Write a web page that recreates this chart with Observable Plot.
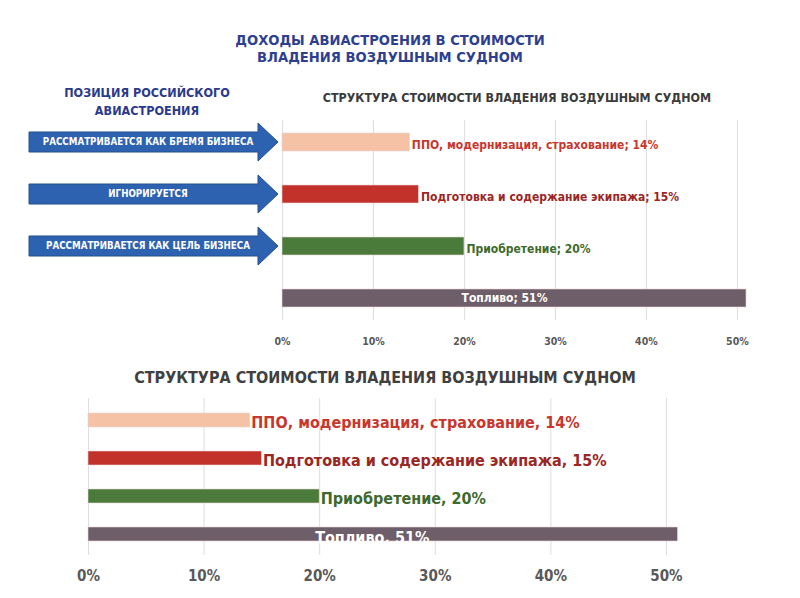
<!DOCTYPE html>
<html>
<head>
<meta charset="utf-8">
<script src="https://cdn.jsdelivr.net/npm/d3@7"></script>
<script src="https://cdn.jsdelivr.net/npm/@observablehq/plot@0.6"></script>
<style>
  html, body { margin: 0; padding: 0; background: #fff; }
  #page { position: relative; width: 800px; height: 598px; overflow: hidden;
    font-family: 'DejaVu Sans Condensed', 'Liberation Sans Narrow', sans-serif; font-weight: bold; }
  .abs { position: absolute; margin: 0; white-space: nowrap; }
  .t1 { left: 0; width: 780px; text-align: center; font-size: 14.6px; line-height: 16px; color: #2e3f8f; }
  .lh { left: 47px; width: 200px; text-align: center; font-size: 12.5px; line-height: 16px; color: #2b3a8c; }
  #sub-top { left: 322px; width: 390px; top: 90px; text-align: center; font-size: 12.4px; line-height: 16px; color: #3b3b3b; }
  #sub-bottom { left: 130px; width: 510px; top: 368px; text-align: center; font-size: 16px; line-height: 20px; color: #404040; }
  #top-chart { left: 0; top: 0; }
  #bottom-chart { left: 0; top: 360px; }
  svg { overflow: visible; }
</style>
</head>
<body>
<div id="page">
  <div id="top-chart" class="abs"></div>
  <div id="bottom-chart" class="abs"></div>
  <div class="abs t1" style="top:32px">ДОХОДЫ АВИАСТРОЕНИЯ В СТОИМОСТИ</div>
  <div class="abs t1" style="top:49px">ВЛАДЕНИЯ ВОЗДУШНЫМ СУДНОМ</div>
  <div class="abs lh" style="top:85px">ПОЗИЦИЯ РОССИЙСКОГО</div>
  <div class="abs lh" style="top:103px">АВИАСТРОЕНИЯ</div>
  <div id="sub-top" class="abs">СТРУКТУРА СТОИМОСТИ ВЛАДЕНИЯ ВОЗДУШНЫМ СУДНОМ</div>
  <div id="sub-bottom" class="abs">СТРУКТУРА СТОИМОСТИ ВЛАДЕНИЯ ВОЗДУШНЫМ СУДНОМ</div>
</div>
<script>
// ---- data ----
const categories = ["ППО", "Подготовка", "Приобретение", "Топливо"];
const values = [14, 15, 20, 51];
const topLabels = [
  "ППО, модернизация, страхование; 14%",
  "Подготовка и содержание экипажа; 15%",
  "Приобретение; 20%",
  "Топливо; 51%"
];
const bottomLabels = [
  "ППО, модернизация, страхование, 14%",
  "Подготовка и содержание экипажа, 15%",
  "Приобретение, 20%",
  "Топливо, 51%"
];
const barColors = ["#f5c2a6", "#c2322a", "#4b7b3a", "#6e5e69"];
const labelColors = ["#c8372d", "#9a2724", "#3f6a2e", "#ffffff"];
const arrowCategories = ["ППО", "Подготовка", "Приобретение"];
const arrowLabels = [
  "РАССМАТРИВАЕТСЯ КАК БРЕМЯ БИЗНЕСА",
  "ИГНОРИРУЕТСЯ",
  "РАССМАТРИВАЕТСЯ КАК ЦЕЛЬ БИЗНЕСА"
];
const tickValues = [0, 10, 20, 30, 40, 50];

const rows = categories.map((c, i) => ({
  cat: c, value: values[i], top: topLabels[i], bottom: bottomLabels[i],
  color: barColors[i], labelColor: labelColors[i]
}));
const outside = rows.slice(0, 3);
const inside = rows.slice(3);
const FONT = "'DejaVu Sans Condensed', 'Liberation Sans Narrow', sans-serif";

// ---- top chart ----
const topPlot = Plot.plot({
  width: 800, height: 360,
  marginTop: 120, marginBottom: 40, marginLeft: 282, marginRight: 54,
  style: { fontFamily: FONT, fontWeight: "bold", color: "#595959", background: "transparent", fontSize: "10.5px" },
  x: { domain: [0, 51], range: [282, 746], ticks: tickValues, tickSize: 0, tickPadding: 17,
       tickFormat: d => d + "%", label: null },
  y: { domain: categories, range: [132, 307], paddingInner: 0.656, paddingOuter: 0, axis: null },
  color: { type: "identity" },
  marks: [
    Plot.ruleX(tickValues, { stroke: "#dedede", strokeWidth: 1 }),
    Plot.barX(rows, { x: "value", y: "cat", fill: "color", stroke: "#ead3d6", strokeWidth: 0.6 }),
    Plot.text(outside, { x: "value", y: "cat", text: "top", fill: "labelColor", textAnchor: "start",
      dx: 2, dy: 3, fontSize: 12, fontWeight: "bold" }),
    Plot.text(inside, { x: d => d.value / 2, y: "cat", text: "top", fill: "labelColor",
      dx: -10, fontSize: 12, fontWeight: "bold" })
  ]
});
document.getElementById("top-chart").appendChild(topPlot);

// arrows positioned by the top chart's y scale
const yTop = topPlot.scale("y");
const bw = yTop.bandwidth;
const svgTop = d3.select(topPlot);
const gA = svgTop.append("g").attr("aria-label", "arrows");
arrowCategories.forEach((c, i) => {
  const cy = yTop.apply(c) + bw / 2;
  const x0 = 29, xh = 258, xt = 278, sh = 10, hh = 19;
  const pts = [[x0, cy - sh], [xh, cy - sh], [xh, cy - hh], [xt, cy], [xh, cy + hh], [xh, cy + sh], [x0, cy + sh]];
  gA.append("polygon").attr("points", pts.map(p => p.join(",")).join(" "))
    .attr("fill", "#2d62b1").attr("stroke", "#21508f").attr("stroke-width", 1);
  gA.append("text").attr("x", 148).attr("y", cy).attr("dy", "0.35em")
    .attr("text-anchor", "middle").attr("fill", "#fff").attr("font-size", 9.7)
    .attr("font-weight", "bold").attr("font-family", FONT).text(arrowLabels[i]);
});

// ---- bottom chart ----
const bottomPlot = Plot.plot({
  width: 800, height: 238,
  marginTop: 38, marginBottom: 43, marginLeft: 88, marginRight: 122,
  style: { fontFamily: FONT, fontWeight: "bold", color: "#595959", background: "transparent", fontSize: "15px" },
  x: { domain: [0, 51], range: [88, 677.5], ticks: tickValues, tickSize: 0, tickPadding: 15,
       tickFormat: d => d + "%", label: null },
  y: { domain: categories, range: [52, 183], paddingInner: 0.625, paddingOuter: 0, axis: null },
  color: { type: "identity" },
  marks: [
    Plot.ruleX(tickValues, { stroke: "#dedede", strokeWidth: 1 }),
    Plot.barX(rows, { x: "value", y: "cat", fill: "color", stroke: "#ead3d6", strokeWidth: 0.6 }),
    Plot.text(outside, { x: "value", y: "cat", text: "bottom", fill: "labelColor", textAnchor: "start",
      dx: 1, dy: 2, fontSize: 16, fontWeight: "bold" }),
    Plot.text(inside, { x: d => d.value / 2, y: "cat", text: "bottom", fill: "labelColor",
      dx: -11, dy: 3, fontSize: 16, fontWeight: "bold" })
  ]
});
document.getElementById("bottom-chart").appendChild(bottomPlot);
</script>
</body>
</html>
